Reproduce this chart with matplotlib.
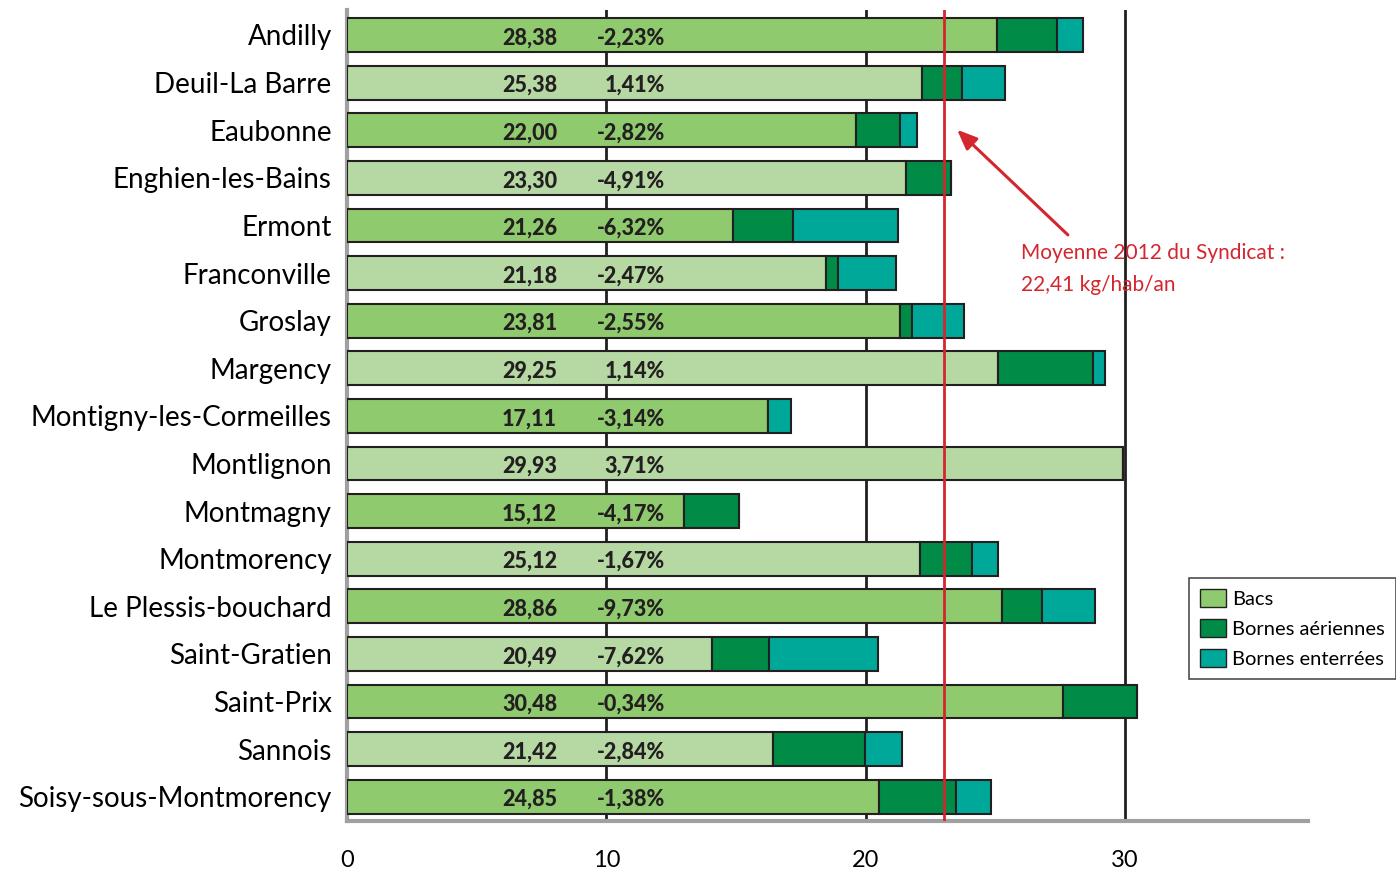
import matplotlib
matplotlib.use("Agg")
import matplotlib.pyplot as plt
from matplotlib.patches import Patch

plt.rcParams['font.family'] = ['Lato', 'DejaVu Sans']

communes = ["Andilly", "Deuil-La Barre", "Eaubonne", "Enghien-les-Bains", "Ermont",
            "Franconville", "Groslay", "Margency", "Montigny-les-Cormeilles", "Montlignon",
            "Montmagny", "Montmorency", "Le Plessis-bouchard", "Saint-Gratien", "Saint-Prix",
            "Sannois", "Soisy-sous-Montmorency"]
bacs = [25.07, 22.17, 19.63, 21.56, 14.89, 18.47, 21.33, 25.11, 16.24, 29.93,
        13.00, 22.10, 25.26, 14.08, 27.61, 16.43, 20.52]
aeriennes = [2.31, 1.55, 1.70, 1.73, 2.31, 0.47, 0.46, 3.66, 0.0, 0.0,
             2.12, 2.00, 1.54, 2.19, 2.87, 3.55, 2.97]
enterrees = [1.00, 1.66, 0.67, 0.01, 4.06, 2.24, 2.02, 0.48, 0.87, 0.0,
             0.0, 1.02, 2.06, 4.22, 0.0, 1.44, 1.36]
totaux = [28.38, 25.38, 22.00, 23.30, 21.26, 21.18, 23.81, 29.25, 17.11, 29.93,
          15.12, 25.12, 28.86, 20.49, 30.48, 21.42, 24.85]
evolution = [-2.23, 1.41, -2.82, -4.91, -6.32, -2.47, -2.55, 1.14, -3.14, 3.71,
             -4.17, -1.67, -9.73, -7.62, -0.34, -2.84, -1.38]
moyenne_pos = 23.02  # position of the red line as drawn
ticks = [0, 10, 20, 30]

c_bacs = "#8fca6f"
c_bacs_light = "#b6d9a4"
c_aer = "#008c47"
c_ent = "#00a89a"
edge = "#231f20"
red = "#d4262e"

def fr(v, d=2):
    return f"{v:.{d}f}".replace('.', ',')

fig = plt.figure(figsize=(13.96, 8.71), dpi=100)
ax = fig.add_axes([347/1396, 1 - 821/871, (1308-347)/1396, (821-10)/871])

y = list(range(len(communes)))
bac_colors = [c_bacs if i % 2 == 0 else c_bacs_light for i in y]
h = 0.71
ax.barh(y, bacs, height=h, color=bac_colors, edgecolor=edge, linewidth=1.5, zorder=3)
left2 = bacs
ax.barh(y, aeriennes, left=left2, height=h, color=c_aer, edgecolor=edge, linewidth=1.5, zorder=3)
left3 = [a + b for a, b in zip(bacs, aeriennes)]
ax.barh(y, enterrees, left=left3, height=h, color=c_ent, edgecolor=edge, linewidth=1.5, zorder=3)

for i in y:
    ax.text(8.1, i + 0.06, fr(totaux[i]), ha='right', va='center', fontsize=15.5,
            fontweight='black', color=edge, zorder=5)
    ax.text(12.26, i + 0.06, fr(evolution[i]) + "%", ha='right', va='center', fontsize=15.5,
            fontweight='black', color=edge, zorder=5)

for t in ticks[1:]:
    ax.axvline(t, color=edge, linewidth=2, zorder=1)

ax.axvline(moyenne_pos, color=red, linewidth=2, zorder=6)
ax.annotate("", xy=(23.45, 1.95), xytext=(27.88, 4.24),
            arrowprops=dict(arrowstyle="-|>,head_length=1.2,head_width=0.5", color=red, lw=2.2),
            zorder=6)
ax.text(26.0, 4.58, "Moyenne 2012 du Syndicat :", color=red, fontsize=15, va='center', ha='left')
ax.text(26.0, 5.25, "22,41 kg/hab/an", color=red, fontsize=15, va='center', ha='left')

ax.set_xlim(0, 37.06)
ax.set_ylim(16.51, -0.525)
ax.set_yticks(y)
ax.set_yticklabels(communes, fontsize=20)
ax.set_xticks(ticks)
ax.set_xticklabels([str(t) for t in ticks], fontsize=17)
ax.tick_params(axis='both', length=0)
ax.tick_params(axis='x', pad=21)
ax.tick_params(axis='y', pad=11)
for s in ['top', 'right']:
    ax.spines[s].set_visible(False)
for s in ['left', 'bottom']:
    ax.spines[s].set_color("#a0a0a0")
    ax.spines[s].set_linewidth(3)

handles = [Patch(facecolor=c_bacs, edgecolor=edge, label="Bacs"),
           Patch(facecolor=c_aer, edgecolor=edge, label="Bornes aériennes"),
           Patch(facecolor=c_ent, edgecolor=edge, label="Bornes enterrées")]
leg = fig.legend(handles=handles, loc='upper left', bbox_to_anchor=(1189/1396, 1 - 578/871),
                 fontsize=14.5, frameon=True, fancybox=False, edgecolor=edge,
                 handlelength=1.3, handleheight=1.0, handletextpad=0.3, labelspacing=0.55,
                 borderpad=0.55, borderaxespad=0)
leg.get_frame().set_linewidth(1.2)

fig.savefig("out.png", dpi=100)
